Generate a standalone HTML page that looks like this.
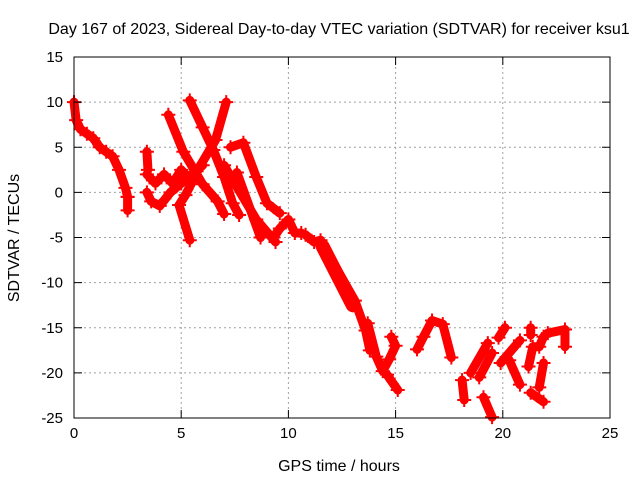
<!DOCTYPE html>
<html><head><meta charset="utf-8"><style>
body{margin:0;background:#fff;width:640px;height:480px;overflow:hidden}
text{font-family:"Liberation Sans",sans-serif;font-size:15px;fill:#000}
text.big{font-size:16px}
</style></head><body>
<svg id="chart" width="640" height="480" xmlns="http://www.w3.org/2000/svg">
<rect width="640" height="480" fill="#fff"/>
<text class="big" x="339" y="34" text-anchor="middle">Day 167 of 2023, Sidereal Day-to-day VTEC variation (SDTVAR) for receiver ksu1</text>
<text class="big" x="339" y="471" text-anchor="middle">GPS time / hours</text>
<text class="big" transform="translate(19,238) rotate(-90)" text-anchor="middle">SDTVAR / TECUs</text>
<g id="grid"></g><g id="marks"></g><g id="axes"></g>
</svg>
<script>
const xTicks=[0,5,10,15,20,25];
const yTicks=[15,10,5,0,-5,-10,-15,-20,-25];
const trackA=[[0,10],[0.1,8],[0.3,7],[0.6,6.5],[0.9,6],[1.2,5],[1.5,4.5],[1.8,4],[2.1,2.5],[2.4,0.5],[2.5,-0.5]];
const trackA2=[[2.5,-0.5],[2.5,-2]];
const trackA3=[[3.4,4.5],[3.45,2.5]];
const trackB=[[3.4,0],[3.6,-1],[4,-1.5],[4.5,0],[5,1],[5.5,2],[6,3]];
const trackB2=[[3.4,2],[3.8,1],[4.2,2],[4.6,1],[5,2.5],[5.4,1.5]];
const trackC=[[4.4,8.6],[5.1,4.5],[6.0,0.9],[6.7,-1.0],[7.0,-2.4]];
const trackC2=[[5.4,10.2],[6.0,7.2],[6.5,4.7],[7.0,1.7],[7.4,-1.2],[7.7,-2.5]];
const trackD=[[7.1,10],[6.6,5.8],[5.9,3],[5.2,-0.3],[4.9,-1.4],[5.4,-5.3]];
const trackE=[[7.3,5],[7.9,5.5],[8.5,1.7],[9.0,-1.2],[9.6,-2.3]];
const trackF=[[7.0,3],[8.5,-3],[9.4,-5.5]];
const trackF2=[[7.6,2.2],[8.7,-5.0]];
const trackG=[[9.3,-5],[9.6,-4],[10,-3],[10.3,-4.5],[10.6,-4.5]];
const trackH=[[10.8,-4.7],[11.2,-5.5],[11.5,-5.3],[13.1,-12],[13.6,-15.3],[13.8,-17.5]];
const trackH2=[[11.6,-6],[13.0,-12.5]];
const trackH3=[[13.7,-14.5],[14.1,-18.2],[14.4,-19.8],[14.7,-18.5],[15.0,-17],[14.8,-16]];
const trackH4=[[14.6,-20.2],[15.1,-21.9]];
const trackI=[[16,-17.4],[16.3,-16],[16.7,-14.2],[17.2,-14.6],[17.6,-18.3]];
const trackJ1=[[18.1,-20.8],[18.2,-23]];
const trackJ2=[[18.5,-20],[19.3,-16.7]];
const trackJ3=[[19.5,-17.8],[18.9,-20.5]];
const trackJ4=[[19.1,-22.7],[19.5,-24.9]];
const trackJ5=[[20.1,-15],[19.8,-16.1]];
const trackJ6=[[19.9,-18.9],[20.8,-16.4]];
const trackJ7=[[20.3,-18.6],[20.8,-21.3]];
const trackJ8=[[21.2,-19.3],[21.4,-17.1],[21.7,-17.1],[21.9,-16]];
const trackJ9=[[21.9,-18.9],[21.7,-21.6]];
const trackJ10=[[21.3,-22.2],[21.9,-23.2]];
const trackJ11=[[22.1,-15.6],[22.9,-15.2],[22.9,-17.1]];
const trackJ12=[[21.3,-15.0],[21.3,-15.8]];
const tracks=[trackA,trackA2,trackA3,trackB,trackB2,trackC,trackC2,trackD,trackE,trackF,trackF2,trackG,trackH,trackH2,trackH3,trackH4,trackI,trackJ1,trackJ2,trackJ3,trackJ4,trackJ5,trackJ6,trackJ7,trackJ8,trackJ9,trackJ10,trackJ11,trackJ12];

const X0=74,X1=610,Y0=57,Y1=418;
const sx=t=>X0+(t-0)/(25-0)*(X1-X0);
const sy=v=>Y0+(15-v)/(15-(-25))*(Y1-Y0);
const NS='http://www.w3.org/2000/svg';
function mk(tag,attrs,parent){const e=document.createElementNS(NS,tag);for(const k in attrs)e.setAttribute(k,attrs[k]);parent.appendChild(e);return e;}
const grid=document.getElementById('grid'),marks=document.getElementById('marks'),axes=document.getElementById('axes');
xTicks.forEach(t=>{
  const x=sx(t);
  if(t>0&&t<25){const g=mk('line',{x1:x,y1:Y0,x2:x,y2:Y1,stroke:'#a0a0a0','stroke-dasharray':'2,3'},grid);
  
  }
  mk('line',{x1:x,y1:Y1,x2:x,y2:Y1-8,stroke:'#000'},axes);
  mk('line',{x1:x,y1:Y0,x2:x,y2:Y0+8,stroke:'#000'},axes);
  const l=mk('text',{x:x,y:Y1+20,'text-anchor':'middle'},axes);l.textContent=t;
  
  
});
yTicks.forEach(v=>{
  const y=sy(v);
  if(v<15&&v>-25){const g=mk('line',{x1:X0,y1:y,x2:X1,y2:y,stroke:'#a0a0a0','stroke-dasharray':'2,3'},grid);
  
  }
  mk('line',{x1:X0,y1:y,x2:X0+8,y2:y,stroke:'#000'},axes);
  mk('line',{x1:X1,y1:y,x2:X1-8,y2:y,stroke:'#000'},axes);
  const l=mk('text',{x:X0-11,y:y+5,'text-anchor':'end'},axes);l.textContent=v;
  
  
});
const b=mk('rect',{x:X0,y:Y0,width:X1-X0,height:Y1-Y0,fill:'none',stroke:'#000'},axes);


tracks.forEach(tr=>{
  const w=(tr===trackH2)?14:9;
  const pl=mk('polyline',{points:tr.map(p=>sx(p[0])+','+sy(p[1])).join(' '),fill:'none',stroke:'#ff0000','stroke-width':w,'stroke-linejoin':'round','stroke-linecap':'round'},marks);
  
  
  tr.forEach(p=>{
    const x=sx(p[0]),y=sy(p[1]);
    const m=mk('path',{d:`M${x-7},${y}h14M${x},${y-7}v14`,stroke:'#ff0000','stroke-width':2},marks);
    
    
  });
});
</script>
</body></html>
